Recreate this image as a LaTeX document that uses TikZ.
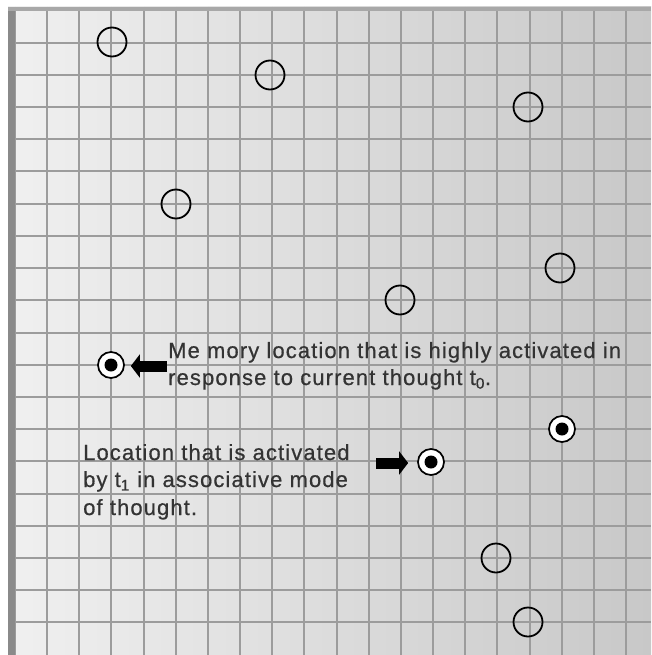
\documentclass[tikz,border=0pt]{standalone}
\usepackage{fontspec}
\setmainfont{Liberation Sans}
\newfontfamily\lblfont[LetterSpace=5,FakeBold=0.6]{Liberation Sans}
\usetikzlibrary{arrows.meta}
\definecolor{gridc}{HTML}{9C9C9C}
\definecolor{borderL}{HTML}{8A8A8A}
\definecolor{borderT}{HTML}{A8A8A8}
\definecolor{bgL}{HTML}{F0F0F0}
\definecolor{bgM}{HTML}{E4E4E4}
\definecolor{bgR}{HTML}{C8C8C8}
\definecolor{txt}{HTML}{333333}
\tikzset{
  gridline/.style={draw=gridc, line width=2pt},
  loc/.style={circle, draw=black, line width=1.8pt, minimum size=29pt, inner sep=0pt},
  hot/.style={circle, draw=black, fill=white, line width=1.7pt, minimum size=26pt, inner sep=0pt,
    path picture={\fill[black] (path picture bounding box.center) circle (6.5pt);}},
  blockarrow/.style={draw=black, line width=11pt, -{Triangle[length=9pt, width=23pt]}},
  lbl/.style={anchor=base west, inner sep=0pt, text=txt, font=\lblfont\fontsize{22}{27}\selectfont}
}
\begin{document}
\begin{tikzpicture}[x=1pt, y=-1pt]
\useasboundingbox (0,0) rectangle (651,655);
\fill[white] (0,0) rectangle (651,655);
\shade[left color=bgL, middle color=bgM, right color=bgR] (8,7) rectangle (651,655);
\foreach \k in {0,...,19} {
  \draw[gridline] ({15+32.16*\k},7) -- ({15+32.16*\k},655);
  \draw[gridline] (8,{10.5+32.2*\k}) -- (651,{10.5+32.2*\k});
}
\fill[borderL] (8,7) rectangle (15,655);
\fill[borderT] (8,7) rectangle (651,11.5);

% memory locations
\node[loc] (m1) at (112,42) {};
\node[loc] (m2) at (270,75) {};
\node[loc] (m3) at (528,107) {};
\node[loc] (m4) at (176,204) {};
\node[loc] (m5) at (560,268) {};
\node[loc] (m6) at (400,300) {};
\node[hot] (m7) at (111,365) {};
\node[hot] (m8) at (562,429) {};
\node[hot] (m9) at (431,462) {};
\node[loc] (m10) at (496,558) {};
\node[loc] (m11) at (528,622) {};

% labels
\node[lbl] (a1) at (168,358) {Me mory location that is highly activated in};
\node[lbl] (a2) at (168,385) {response to current thought t\textsubscript{0}.};
\node[lbl] (b1) at (83,460) {Location that is activated};
\node[lbl] (b2) at (83,487) {by t\textsubscript{1} in associative mode};
\node[lbl] (b3) at (83,515) {of thought.};

% arrows
\coordinate (ta) at (167,366);
\coordinate (tb) at (376,463);
\draw[blockarrow, shorten >=6pt] (ta) -- (m7.east |- ta);
\draw[blockarrow, shorten >=9pt] (tb) -- (m9.west |- tb);
\end{tikzpicture}
\end{document}
